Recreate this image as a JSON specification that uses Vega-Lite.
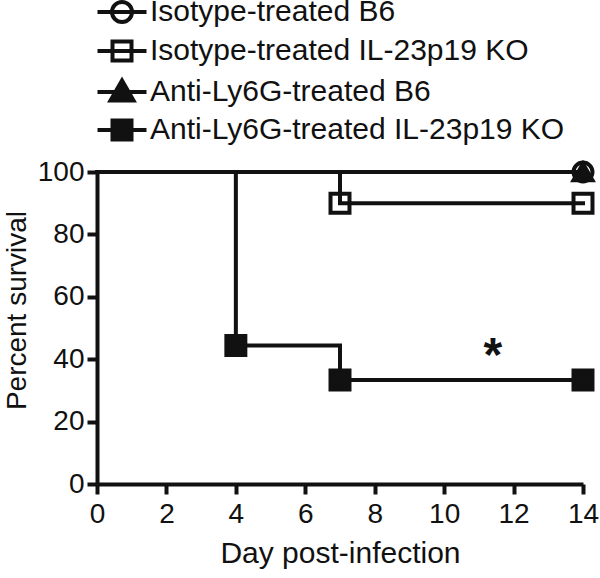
{
  "$schema": "https://vega.github.io/schema/vega-lite/v6.json",
  "width": 486,
  "height": 312,
  "autosize": {"type": "none"},
  "padding": {"left": 97, "top": 172, "right": 17, "bottom": 94},
  "background": "white",
  "config": {
    "view": {"stroke": null},
    "font": "Liberation Sans",
    "axis": {
      "grid": false,
      "domainColor": "#111111",
      "domainWidth": 4,
      "tickColor": "#111111",
      "tickWidth": 4,
      "tickSize": 10,
      "labelColor": "#111111",
      "labelFont": "Liberation Sans",
      "labelFontSize": 28,
      "titleColor": "#111111",
      "titleFont": "Liberation Sans",
      "titleFontWeight": "normal",
      "labelOverlap": false,
      "labelBound": false,
      "labelFlush": false
    }
  },
  "datasets": {
    "curves": [
      {"series": "Isotype-treated B6", "day": 0, "survival": 100},
      {"series": "Isotype-treated B6", "day": 14, "survival": 100},
      {"series": "Isotype-treated IL-23p19 KO", "day": 0, "survival": 100},
      {"series": "Isotype-treated IL-23p19 KO", "day": 7, "survival": 90},
      {"series": "Isotype-treated IL-23p19 KO", "day": 14, "survival": 90},
      {"series": "Anti-Ly6G-treated B6", "day": 0, "survival": 100},
      {"series": "Anti-Ly6G-treated B6", "day": 14, "survival": 100},
      {"series": "Anti-Ly6G-treated IL-23p19 KO", "day": 0, "survival": 100},
      {"series": "Anti-Ly6G-treated IL-23p19 KO", "day": 4, "survival": 44.4},
      {"series": "Anti-Ly6G-treated IL-23p19 KO", "day": 7, "survival": 33.3},
      {"series": "Anti-Ly6G-treated IL-23p19 KO", "day": 14, "survival": 33.3}
    ],
    "notes": [
      {"day": 11.4, "survival": 44, "label": "*"}
    ]
  },
  "resolve": {
    "scale": {"shape": "independent"},
    "legend": {"shape": "independent"}
  },
  "layer": [
    {
      "data": {"name": "curves"},
      "mark": {"type": "line", "interpolate": "step-after", "strokeWidth": 4, "color": "#111111", "strokeCap": "square"},
      "encoding": {
        "x": {"field": "day", "type": "quantitative", "scale": {"domain": [0, 14], "nice": false},
          "axis": {"values": [0, 2, 4, 6, 8, 10, 12, 14], "title": "Day post-infection", "titleFontSize": 30, "labelPadding": 6, "titlePadding": 10}},
        "y": {"field": "survival", "type": "quantitative", "scale": {"domain": [0, 100], "nice": false},
          "axis": {"values": [0, 20, 40, 60, 80, 100], "title": "Percent survival", "titleFontSize": 28, "labelPadding": 3, "titlePadding": 6, "titleY": 138}},
        "detail": {"field": "series"}
      }
    },
    {
      "data": {"name": "curves"},
      "transform": [{"filter": "datum.day > 0"}],
      "mark": {"type": "point", "stroke": "#111111", "strokeWidth": 4, "opacity": 1, "filled": false, "size": 360},
      "encoding": {
        "x": {"field": "day", "type": "quantitative"},
        "y": {"field": "survival", "type": "quantitative"},
        "shape": {"field": "series", "type": "nominal", "legend": null,
          "scale": {"domain": ["Isotype-treated B6", "Isotype-treated IL-23p19 KO", "Anti-Ly6G-treated B6", "Anti-Ly6G-treated IL-23p19 KO"],
                    "range": ["circle", "square", "triangle-up", "square"]}},
        "fill": {"field": "series", "type": "nominal", "legend": null,
          "scale": {"domain": ["Isotype-treated B6", "Isotype-treated IL-23p19 KO", "Anti-Ly6G-treated B6", "Anti-Ly6G-treated IL-23p19 KO"],
                    "range": ["transparent", "transparent", "#111111", "#111111"]}}
      }
    },
    {
      "data": {"name": "curves"},
      "transform": [{"filter": "datum.day > 0"}],
      "mark": {"type": "point", "stroke": "#111111", "strokeWidth": 4, "opacity": 0, "filled": false, "size": 1},
      "encoding": {
        "x": {"field": "day", "type": "quantitative"},
        "y": {"field": "survival", "type": "quantitative"},
        "shape": {"field": "series", "type": "nominal",
          "scale": {"domain": ["Isotype-treated B6", "Isotype-treated IL-23p19 KO", "Anti-Ly6G-treated B6", "Anti-Ly6G-treated IL-23p19 KO"],
                    "range": [
                      "M-2.45,0H2.45M-1,0A1,1 0 1,1 1,0A1,1 0 1,1 -1,0Z",
                      "M-2.45,0H2.45M-0.95,-0.95H0.95V0.95H-0.95Z",
                      "M-2.45,0H2.45M0,-1.15L1.15,0.85H-1.15ZM-0.23,-0.75H0.23M-0.46,-0.35H0.46M-0.69,0.05H0.69M-0.92,0.45H0.92",
                      "M-2.45,0H2.45M-0.95,-0.95H0.95V0.95H-0.95ZM-0.95,-0.6H0.95M-0.95,-0.2H0.95M-0.95,0.2H0.95M-0.95,0.6H0.95"
                    ]},
          "legend": {
            "orient": "none", "legendX": 10, "legendY": -175, "title": null, "padding": 0,
            "symbolSize": 400, "labelFontSize": 30, "labelColor": "#111111", "labelFont": "Liberation Sans",
            "labelLimit": 600, "labelOffset": 13, "rowPadding": 3, "symbolStrokeWidth": 4, "symbolStrokeColor": "#111111",
            "encoding": {"symbols": {
              "stroke": {"value": "#111111"},
              "fill": {"value": "transparent"},
              "strokeWidth": {"value": 4},
              "opacity": {"value": 1},
              "size": {"value": 400}
            }}
          }}
      }
    },
    {
      "data": {"name": "notes"},
      "mark": {"type": "text", "fontSize": 48, "fontWeight": "bold", "baseline": "middle", "align": "center", "color": "#111111", "dy": 10},
      "encoding": {
        "x": {"field": "day", "type": "quantitative"},
        "y": {"field": "survival", "type": "quantitative"},
        "text": {"field": "label"}
      }
    }
  ]
}
